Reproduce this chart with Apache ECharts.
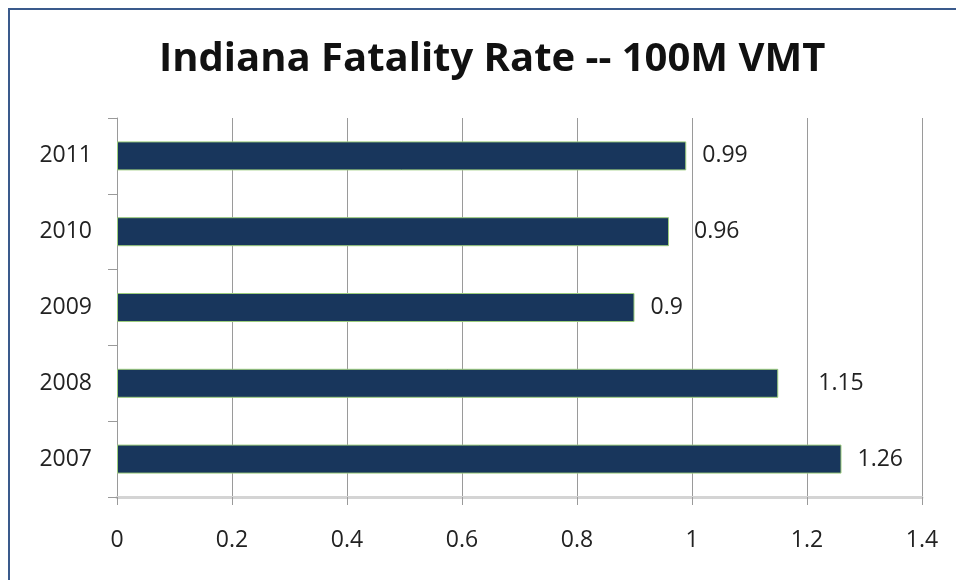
<!DOCTYPE html>
<html>
<head>
<meta charset="utf-8">
<script src="https://cdn.jsdelivr.net/npm/echarts@6/dist/echarts.min.js"></script>
<style>
  html, body { margin: 0; padding: 0; background: #fff; }
  #frame { position: absolute; left: 8px; top: 8px; width: 960px; height: 600px; border: 2px solid #3a5a8c; box-sizing: border-box; }
  #main { position: absolute; left: 0; top: 0; width: 956px; height: 580px; }
</style>
</head>
<body>
<div id="frame"></div>
<div id="main"></div>
<script>
var years = ['2007', '2008', '2009', '2010', '2011'];
var rates = [1.26, 1.15, 0.9, 0.96, 0.99];
var xTicks = [0, 0.2, 0.4, 0.6, 0.8, 1, 1.2, 1.4];
// gap between bar end and its label, as placed in the original
var labelGap = [16, 40, 16, 25, 16];

var chart = echarts.init(document.getElementById('main'));
var barData = rates.map(function (v, i) {
    return { value: v, label: { distance: labelGap[i] } };
});
var option = {
    animation: false,
    title: {
        text: 'Indiana Fatality Rate -- 100M VMT',
        left: 154,
        top: 35,
        textStyle: {
            fontFamily: 'Open Sans',
            fontWeight: 'bold',
            fontSize: 40,
            color: '#111'
        }
    },
    grid: {
        left: 117,
        right: 34,
        top: 118,
        bottom: 83
    },
    xAxis: {
        type: 'value',
        min: xTicks[0],
        max: xTicks[xTicks.length - 1],
        interval: 0.2,
        axisLine: { show: true, lineStyle: { color: '#d4d4d4', width: 3 } },
        axisTick: { show: true, length: 8, lineStyle: { color: '#9a9a9a' } },
        splitLine: { show: true, lineStyle: { color: '#9a9a9a', width: 1 } },
        axisLabel: {
            margin: 32,
            fontFamily: 'Open Sans',
            fontSize: 23,
            color: '#222'
        }
    },
    yAxis: {
        type: 'category',
        data: years,
        axisLine: { show: true, lineStyle: { color: '#9a9a9a' } },
        axisTick: { show: true, length: 9, lineStyle: { color: '#9a9a9a' } },
        axisLabel: {
            margin: 25,
            fontFamily: 'Open Sans',
            fontSize: 23,
            color: '#222'
        }
    },
    series: [{
        type: 'bar',
        data: barData,
        barWidth: 29,
        itemStyle: {
            color: '#18365c',
            borderColor: '#9ccc7c',
            borderWidth: 1
        },
        label: {
            show: true,
            position: 'right',
            fontFamily: 'Open Sans',
            fontSize: 23,
            color: '#222'
        }
    }]
};
chart.setOption(option);
</script>
</body>
</html>
